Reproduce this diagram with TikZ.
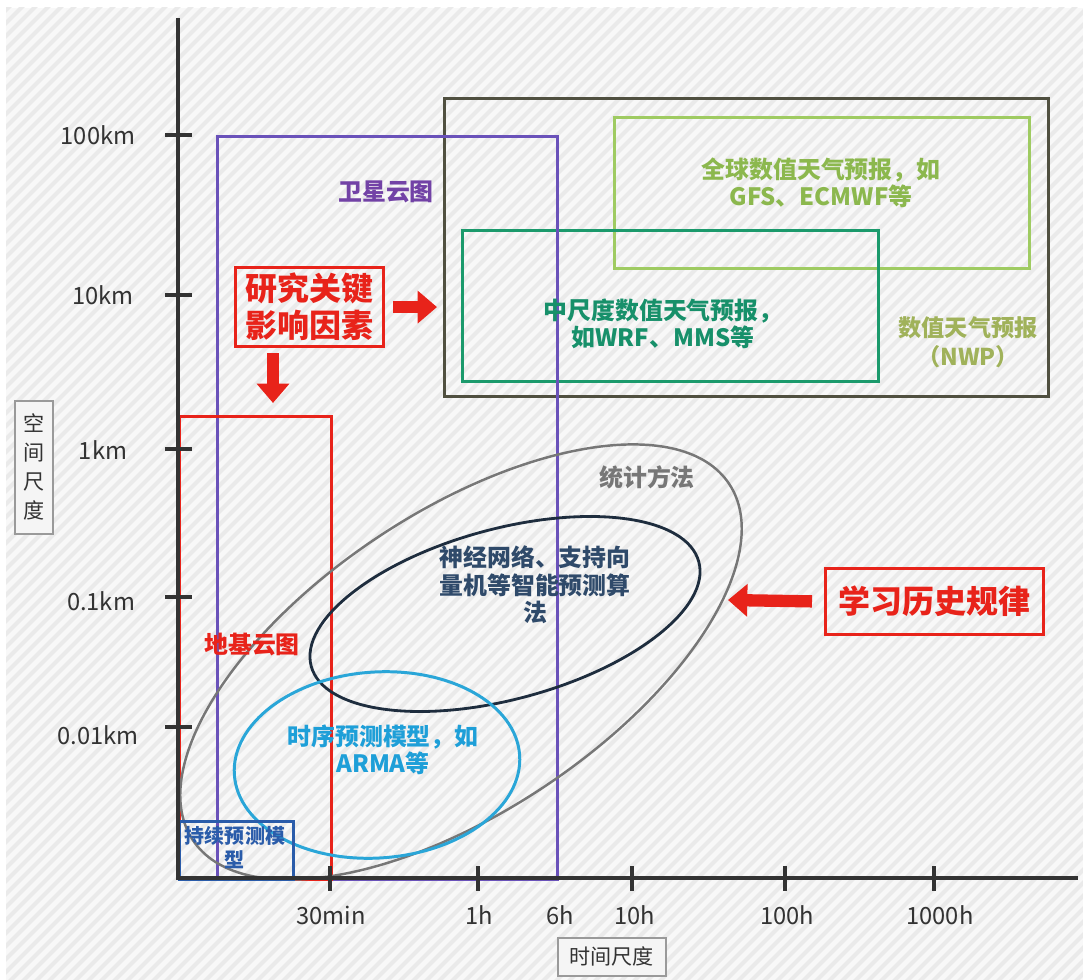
\documentclass[tikz,border=0pt]{standalone}
\usepackage{fontspec}
\setmainfont{Noto Sans CJK SC}
\usetikzlibrary{arrows.meta,calc,shapes.geometric}
\definecolor{axisc}{HTML}{333333}
\definecolor{bgc}{HTML}{F8F8F8}
\definecolor{stripec}{HTML}{EAEAEA}
\definecolor{purplec}{HTML}{6A52BA}
\definecolor{purpletxt}{HTML}{7242A6}
\definecolor{nwpc}{HTML}{505040}
\definecolor{nwptxt}{HTML}{A0B25A}
\definecolor{globc}{HTML}{9FCB62}
\definecolor{globtxt}{HTML}{8CB84E}
\definecolor{mesoc}{HTML}{1B9A6C}
\definecolor{mesotxt}{HTML}{17906A}
\definecolor{redc}{HTML}{E8231A}
\definecolor{grayc}{HTML}{777777}
\definecolor{navyc}{HTML}{1E2D3E}
\definecolor{navytxt}{HTML}{2F4A6A}
\definecolor{cyanc}{HTML}{2AA6D8}
\definecolor{cyantxt}{HTML}{1E9FD8}
\definecolor{bluec}{HTML}{2A5CAA}
\definecolor{labelbox}{HTML}{9A9A9A}
\tikzset{
  region/.style={draw=#1, line width=1.8pt, inner sep=0pt, anchor=north west},
  oval/.style={draw=#1, ellipse, inner sep=0pt},
  lbl/.style={text=#1, font=\bfseries\fontsize{13.6}{15.6}\selectfont, align=center, inner sep=0pt},
  biglbl/.style={text=redc, font=\bfseries\fontsize{18.2}{21}\selectfont, align=center, inner sep=0pt},
  bigarrow/.style={draw=redc, line width=7pt, -{Triangle[width=18pt,length=11pt]}},
  axtick/.style={draw=axisc, line width=2pt},
  axlbl/.style={font=\fontsize{13.5}{15}\selectfont, text=axisc, inner sep=0pt},
  namebox/.style={draw=labelbox, fill=white!96!black, line width=0.9pt, inner sep=0pt, anchor=north west, align=center, font=\fontsize{12}{16.5}\selectfont, text=axisc},
  stripe/.style={draw=stripec, line width=2.4pt}
}
\begin{document}
\begin{tikzpicture}[x=0.02cm,y=-0.02cm]
\useasboundingbox (0,0) rectangle (1083,980);
\fill[white] (0,0) rectangle (1083,980);
\begin{scope}
  \clip (6,8) rectangle (1083,980);
  \fill[bgc] (6,8) rectangle (1083,980);
  \foreach \i in {0,13,...,2100} \draw[stripe] (\i-1000,990) -- (\i,-10);
\end{scope}

% region boxes
\node[region=nwpc, minimum width=12.08cm, minimum height=5.96cm] (nwp) at (443,97) {};
\node[region=globc, minimum width=8.3cm, minimum height=3.02cm] (glob) at (613,116) {};
\node[region=mesoc, minimum width=8.32cm, minimum height=3.02cm] (meso) at (461,229) {};
\node[region=purplec, minimum width=6.8cm, minimum height=14.86cm] (sat) at (216,135) {};
\node[region=redc, minimum width=3.04cm, minimum height=9.26cm] (ground) at (178,415) {};

% ellipses
\node[oval=grayc, line width=1.4pt, minimum width=12.88cm, minimum height=6cm, rotate=33.6] (stat) at (461,662) {};
\node[oval=navyc, line width=1.6pt, minimum width=8.03cm, minimum height=3.41cm, rotate=15.1] (nn) at (505,614) {};
\node[oval=cyanc, line width=1.7pt, minimum width=5.72cm, minimum height=3.72cm, rotate=4] (ts) at (377,765) {};

\node[region=bluec, minimum width=2.28cm, minimum height=1.16cm] (persist) at (178,820) {};

% axes
\coordinate (ytop) at (178,18);
\coordinate (origin) at (178,878);
\coordinate (xend) at (1078,878);
\draw[axtick] (ytop) -- (origin) -- (xend);
\foreach \y in {135,295,449,597,727} \draw[axtick] (165,\y) -- (192,\y);
\foreach \x in {330,478,632,785,934} \draw[axtick] (\x,866) -- (\x,891);

\node[axlbl] (l100km) at (98,135) {100km};
\node[axlbl] (l10km) at (103,295) {10km};
\node[axlbl] (l1km) at (103,450) {1km};
\node[axlbl] (l01km) at (101,601) {0.1km};
\node[axlbl] (l001km) at (98,735) {0.01km};
\node[axlbl] (l30) at (331,915) {30min};
\node[axlbl] (l1h) at (479,915) {1h};
\node[axlbl] (l6h) at (560,915) {6h};
\node[axlbl] (l10h) at (635,915) {10h};
\node[axlbl] (l100h) at (787,915) {100h};
\node[axlbl] (l1000h) at (940,915) {1000h};

\node[namebox, minimum width=2.16cm, minimum height=0.76cm] (tname) at (557,937) {时间尺度};
\node[namebox, minimum width=0.76cm, minimum height=2.66cm] (sname) at (14,400) {空\\间\\尺\\度};

% labels
\node[lbl=purpletxt] (satl) at (386,192) {卫星云图};
\node[lbl=globtxt] (globl) at (821,183) {全球数值天气预报，如\\GFS、ECMWF等};
\node[lbl=mesotxt] (mesol) at (663,324) {中尺度数值天气预报，\\如WRF、MMS等};
\node[lbl=nwptxt, font=\bfseries\fontsize{13.2}{16.4}\selectfont] (nwpl) at (968,342) {数值天气预报\\（NWP）};
\node[lbl=redc] (groundl) at (252,645) {地基云图};
\node[lbl=grayc] (statl) at (647,477) {统计方法};
\node[lbl=navytxt] (nnl) at (535,585) {神经网络、支持向\\量机等智能预测算\\法};
\node[lbl=cyantxt] (tsl) at (383,750) {时序预测模型，如\\ARMA等};
\node[lbl=bluec, font=\bfseries\fontsize{11.4}{13.6}\selectfont] (persistl) at (235,848) {持续预测模\\型};

% key factor box and arrows
\node[region=redc, minimum width=2.96cm, minimum height=1.58cm] (key) at (234,266) {};
\node[biglbl] (keyl) at (key.center) {研究关键\\影响因素};
\node[region=redc, minimum width=4.36cm, minimum height=1.32cm] (learn) at (824,567) {};
\node[biglbl] (learnl) at (learn.center) {学习历史规律};

\coordinate (dA) at (273,0);
\coordinate (statR) at (728,600);
\draw[bigarrow, shorten <=0.16cm, shorten >=0.12cm] (key.east) -- (key.east -| nwp.west);
\draw[bigarrow, shorten <=0.1cm, shorten >=0.24cm] (dA |- key.south) -- (dA |- ground.north);
\draw[bigarrow, shorten <=0.24cm] (learn.west) -- (statR);
\end{tikzpicture}
\end{document}
